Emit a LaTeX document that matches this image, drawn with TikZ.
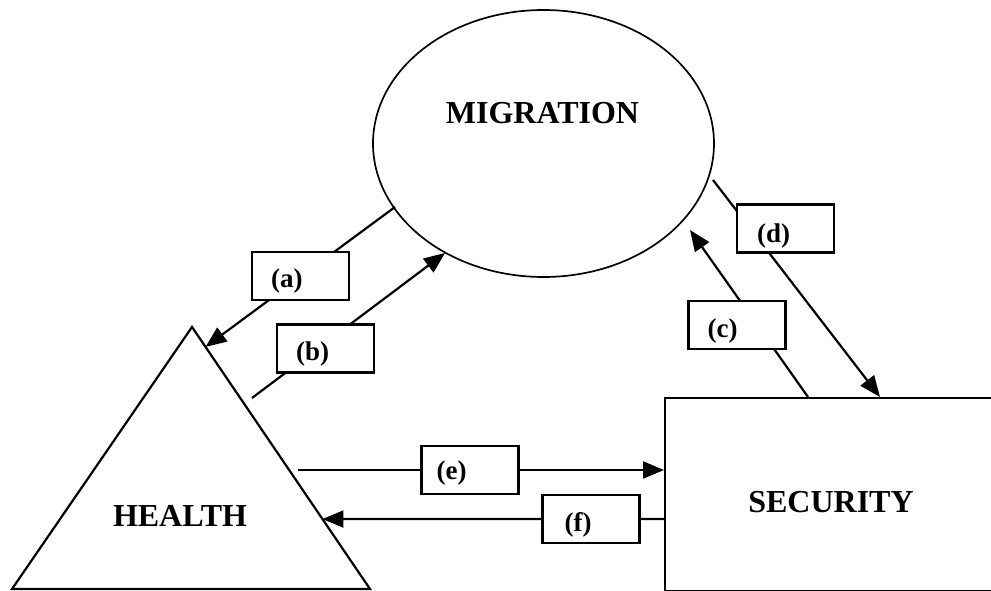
\documentclass[tikz,border=0pt]{standalone}
\usepackage{fontspec}
\setmainfont{Liberation Serif}
\usetikzlibrary{arrows.meta,shapes.geometric,calc}
\begin{document}
\begin{tikzpicture}[x=1pt,y=-1pt,
  outline/.style={draw, line width=2.2pt, line join=miter},
  conn/.style={line width=2.2pt, -{Triangle[length=21pt,width=17pt]}},
  lbox/.style={draw, fill=white, line width=2.2pt, minimum width=97pt, minimum height=48pt, inner sep=0pt},
  lbl/.style={font=\bfseries\fontsize{27}{30}\selectfont, inner sep=0pt, anchor=west},
  title/.style={font=\bfseries\fontsize{32}{36}\selectfont, inner sep=0pt}]
\useasboundingbox (0,0) rectangle (991,591);
\clip (0,0) rectangle (991,591);

% main shapes
\node[ellipse, draw, line width=1.7pt, minimum width=341pt, minimum height=267pt, inner sep=0pt] (mig) at (543.5,143.5) {};
\node[title] (migtxt) at (542.5,113) {MIGRATION};

\coordinate (hA) at (192,327);
\coordinate (hL) at (12,589);
\coordinate (hR) at (370,589);
\draw[outline] (hL) -- (hA) -- (hR) -- cycle;
\node[title] (healthtxt) at (180,515.5) {HEALTH};

\node[outline, minimum width=346pt, minimum height=193pt, anchor=north west, inner sep=0pt] (sec) at (664,397) {};
\node[title] (sectxt) at (831,502) {SECURITY};

% connector end points
\coordinate (a0) at (395,207);
\coordinate (a1) at ($(hA)!0.076!(hR)$);
\coordinate (b0) at (252,398);
\coordinate (b1) at (445,253);
\coordinate (c0) at ($(sec.north west)+(144,0)$);
\coordinate (c1) at (690,230);
\coordinate (d0) at (713,180);
\coordinate (d1) at ($(sec.north west)+(216,0)$);
\coordinate (e0) at (298,470);
\coordinate (e1) at (sec.west |- e0);
\coordinate (f0) at (sec.west |- 0,519);
\coordinate (f1) at ($(hA)!0.733!(hR)$);

% connectors
\draw[conn] (a0) -- (a1);
\draw[conn] (b0) -- (b1);
\draw[conn] (c0) -- (c1);
\draw[conn] (d0) -- (d1);
\draw[conn] (e0) -- (e1);
\draw[conn] (f0) -- (f1);

% label boxes
\node[lbox] (ba) at (300.5,276) {};
\node[lbox] (bb) at (325.5,348.5) {};
\node[lbox] (bc) at (737,325) {};
\node[lbox] (bd) at (785.5,228.5) {};
\node[lbox] (be) at (470,470) {};
\node[lbox] (bf) at (591,519) {};

\node[lbl] (ta) at ($(ba.west)+(20,5.5)$) {(a)};
\node[lbl] (tb) at ($(bb.west)+(20,5.5)$) {(b)};
\node[lbl] (tc) at ($(bc.west)+(20,6)$) {(c)};
\node[lbl] (td) at ($(bd.west)+(21,8)$) {(d)};
\node[lbl] (te) at ($(be.west)+(16,3)$) {(e)};
\node[lbl] (tf) at ($(bf.west)+(23,6)$) {(f)};
\end{tikzpicture}
\end{document}
